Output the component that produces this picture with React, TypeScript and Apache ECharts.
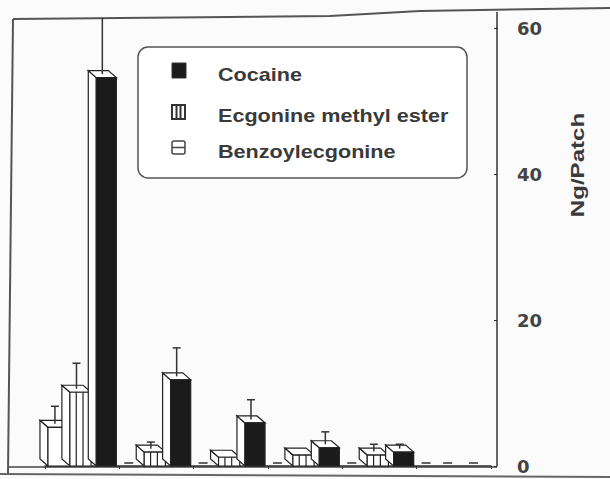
import React, { useEffect, useRef } from "react";
import * as echarts from "echarts";

const categories = ["1", "2", "3", "4", "5", "6"];
const cocaine = [53.2, 11.8, 5.9, 2.5, 1.9, 0];
const cocaineErr = [10, 3.9, 2.7, 1.7, 0.6, 0];
const ecgonine = [10.1, 1.9, 1.2, 1.5, 1.5, 0];
const ecgonineErr = [3.5, 0.9, 0, 0, 1.0, 0];
const benzoyl = [5.3, 0, 0, 0, 0, 0];
const benzoylErr = [2.4, 0, 0, 0, 0, 0];
const yTicks = [0, 20, 40, 60];
const seriesNames = ["Cocaine", "Ecgonine methyl ester", "Benzoylecgonine"];

const INK = "#222";

function makeRender(kind: string, f0: number, f1: number) {
  return (params: any, api: any) => {
    const idx = api.value(0);
    const val = api.value(1);
    const err = api.value(2);
    const bw = api.size([1, 0])[0];
    const base = api.coord([idx, 0]);
    const start = base[0] - bw / 2;
    const y0 = base[1];
    const x0 = start + bw * f0;
    const x1 = start + bw * f1;
    const dx = -8;
    const dy = -7;
    const cxf = (x0 + x1) / 2;
    if (!(val > 0)) {
      return {
        type: "line",
        shape: { x1: cxf + dx / 2 - 5, y1: y0 - 3, x2: cxf + dx / 2 + 4, y2: y0 - 3 },
        style: { stroke: "#333", lineWidth: 1.5 },
      };
    }
    const yt = api.coord([idx, val])[1];
    const ln = { stroke: INK, lineWidth: 1.2 };
    const children: any[] = [];
    children.push({
      type: "polygon",
      shape: { points: [[x0, y0], [x0, yt], [x0 + dx, yt + dy], [x0 + dx, y0 + dy]] },
      style: { fill: "#fff", ...ln },
    });
    children.push({
      type: "polygon",
      shape: { points: [[x0, yt], [x1, yt], [x1 + dx, yt + dy], [x0 + dx, yt + dy]] },
      style: { fill: "#fff", ...ln },
    });
    children.push({
      type: "rect",
      shape: { x: x0, y: yt, width: x1 - x0, height: y0 - yt },
      style: { fill: kind === "cocaine" ? "#1b1b1b" : "#fff", ...ln },
    });
    if (kind === "ecgonine") {
      [0.3, 0.62].forEach((f) => {
        const xx = x0 + (x1 - x0) * f;
        children.push({ type: "line", shape: { x1: xx, y1: yt, x2: xx, y2: y0 }, style: ln });
      });
    }
    if (err > 0) {
      const cx = cxf + dx / 2;
      const cy = yt + dy / 2;
      let ytop = api.coord([idx, val + err])[1] + dy / 2;
      const limit = params.coordSys.y - 10;
      const clamped = ytop < limit;
      if (clamped) ytop = limit;
      children.push({
        type: "line",
        shape: { x1: cx, y1: cy, x2: cx, y2: ytop },
        style: { stroke: "#333", lineWidth: 1.5 },
      });
      if (!clamped) {
        children.push({
          type: "line",
          shape: { x1: cx - 4, y1: ytop, x2: cx + 4, y2: ytop },
          style: { stroke: "#333", lineWidth: 1.5 },
        });
      }
    }
    return { type: "group", children };
  };
}

export default function App() {
  const ref = useRef<HTMLDivElement>(null);
  useEffect(() => {
    document.body.style.margin = "0";
    const chart = echarts.init(ref.current!, null, { renderer: "svg" });
    const mk = (vals: number[], errs: number[]) => categories.map((_, i) => [i, vals[i], errs[i]]);
    const textStyle = {
      fill: "#3a3a3a",
      fontFamily: "Liberation Sans",
      fontWeight: "bold",
      fontSize: 18,
      verticalAlign: "middle",
    };
    chart.setOption({
      animation: false,
      backgroundColor: "#fbfbfb",
      grid: { left: 45, right: 119, top: 28, bottom: 13 },
      xAxis: {
        type: "category",
        data: categories,
        axisLabel: { show: false },
        axisTick: { show: true, length: 3, lineStyle: { color: "#333" } },
        axisLine: { lineStyle: { color: "#333", width: 1.5 } },
        splitLine: { show: false },
      },
      yAxis: {
        type: "value",
        position: "right",
        offset: 6,
        min: yTicks[0],
        max: yTicks[yTicks.length - 1],
        interval: 20,
        axisLine: { show: true, lineStyle: { color: "#333", width: 1.5 } },
        axisTick: { show: true, inside: true, length: 3, lineStyle: { color: "#333" } },
        axisLabel: { color: "#444", fontSize: 18, fontWeight: "bold", fontFamily: "DejaVu Sans", margin: 20 },
        splitLine: { show: false },
      },
      series: [
        {
          name: seriesNames[2],
          type: "custom",
          clip: false,
          renderItem: makeRender("benzoyl", 0.04, 0.335),
          encode: { x: 0, y: 1 },
          data: mk(benzoyl, benzoylErr),
        },
        {
          name: seriesNames[1],
          type: "custom",
          clip: false,
          renderItem: makeRender("ecgonine", 0.335, 0.62),
          encode: { x: 0, y: 1 },
          data: mk(ecgonine, ecgonineErr),
        },
        {
          name: seriesNames[0],
          type: "custom",
          clip: false,
          renderItem: makeRender("cocaine", 0.69, 0.96),
          encode: { x: 0, y: 1 },
          data: mk(cocaine, cocaineErr),
        },
      ],
      graphic: [
        // frame
        { type: "polyline", shape: { points: [[13, 19], [330, 16], [420, 11], [610, 8]] }, style: { stroke: "#555", lineWidth: 2, fill: null } },
        { type: "line", shape: { x1: 13, y1: 19, x2: 8, y2: 474 }, style: { stroke: "#555", lineWidth: 2 } },
        { type: "line", shape: { x1: 9, y1: 467, x2: 497, y2: 467 }, style: { stroke: "#444", lineWidth: 1.5 } },
        { type: "line", shape: { x1: 0, y1: 474, x2: 610, y2: 477 }, style: { stroke: "#666", lineWidth: 2 } },
        { type: "line", shape: { x1: 497, y1: 12, x2: 497, y2: 29 }, style: { stroke: "#333", lineWidth: 1.5 } },
        // legend
        { type: "rect", shape: { x: 138, y: 47, width: 329, height: 131, r: 10 }, style: { fill: "#fff", stroke: "#555", lineWidth: 1.5 } },
        { type: "rect", shape: { x: 172, y: 63, width: 14, height: 15 }, style: { fill: "#1b1b1b", stroke: "#333", lineWidth: 1 } },
        { type: "rect", shape: { x: 172, y: 105, width: 13, height: 14 }, style: { fill: "#fff", stroke: "#333", lineWidth: 2 } },
        { type: "line", shape: { x1: 176.5, y1: 105, x2: 176.5, y2: 119 }, style: { stroke: "#333", lineWidth: 2 } },
        { type: "line", shape: { x1: 180.5, y1: 105, x2: 180.5, y2: 119 }, style: { stroke: "#333", lineWidth: 2 } },
        { type: "rect", shape: { x: 172, y: 141, width: 13, height: 13, r: 2 }, style: { fill: "#fff", stroke: "#444", lineWidth: 1.5 } },
        { type: "line", shape: { x1: 172, y1: 147.5, x2: 185, y2: 147.5 }, style: { stroke: "#444", lineWidth: 1.5 } },
        { type: "text", x: 218, y: 75, scaleX: 1.2, style: { ...textStyle, text: seriesNames[0] } },
        { type: "text", x: 218, y: 116, scaleX: 1.2, style: { ...textStyle, text: seriesNames[1] } },
        { type: "text", x: 218, y: 152, scaleX: 1.2, style: { ...textStyle, text: seriesNames[2] } },
        // axis name
        {
          type: "text",
          x: 577,
          y: 165,
          rotation: Math.PI / 2,
          scaleX: 1.27,
          style: {
            text: "Ng/Patch",
            fill: "#3a3a3a",
            fontFamily: "Liberation Sans",
            fontWeight: "bold",
            fontSize: 19,
            align: "center",
            verticalAlign: "middle",
          },
        },
      ],
    });
    return () => chart.dispose();
  }, []);
  return <div ref={ref} style={{ position: "absolute", left: 0, top: 0, width: 610, height: 479 }} />;
}
